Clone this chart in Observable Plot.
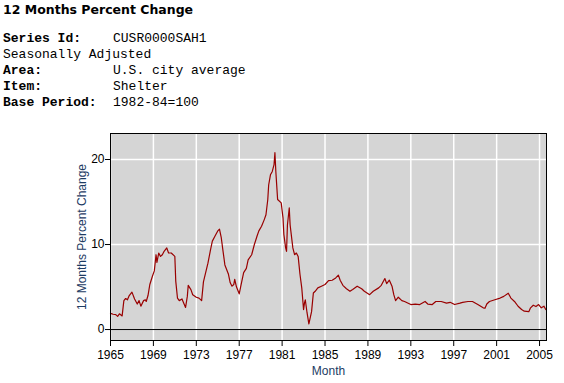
<!DOCTYPE html>
<html>
<head>
<meta charset="utf-8">
<script src="https://cdn.jsdelivr.net/npm/d3@7"></script>
<script src="https://cdn.jsdelivr.net/npm/@observablehq/plot@0.6"></script>
<style>
  html, body { margin: 0; padding: 0; background: #fff; }
  #wrap { width: 564px; height: 383px; position: relative; overflow: hidden; }
  #head { position: relative; height: 120px; }
  .title { position: absolute; left: 3px; top: 2px; font: bold 12.5px "DejaVu Sans", Verdana, sans-serif; color: #000; }
  .line { position: absolute; left: 3px; font: 13px "Liberation Mono", "Courier New", monospace; white-space: pre; color: #000; line-height: 16px; }
  .line b { font-weight: bold; }
  .val { position: absolute; left: 113px; font: 13px "Liberation Mono", "Courier New", monospace; white-space: pre; color: #000; line-height: 16px; }
  svg { display: block; }
</style>
</head>
<body>
<div id="wrap">
  <div id="head">
    <div class="title">12 Months Percent Change</div>
    <div class="line" style="top:31px"><b>Series Id:</b></div><div class="val" style="top:31px">CUSR0000SAH1</div>
    <div class="line" style="top:47px">Seasonally Adjusted</div>
    <div class="line" style="top:63px"><b>Area:</b></div><div class="val" style="top:63px">U.S. city average</div>
    <div class="line" style="top:79px"><b>Item:</b></div><div class="val" style="top:79px">Shelter</div>
    <div class="line" style="top:95px"><b>Base Period:</b></div><div class="val" style="top:95px">1982-84=100</div>
  </div>
  <div id="chart"></div>
</div>
<script>
const months = [
"1965-01","1965-04","1965-07","1965-09","1965-11","1966-02","1966-04","1966-06","1966-08","1966-10",
"1967-01","1967-04","1967-07","1967-09","1967-11","1968-02","1968-04","1968-05","1968-07","1968-09",
"1968-12","1969-02","1969-04","1969-05","1969-07","1969-09","1969-11","1970-01","1970-04","1970-06",
"1970-09","1971-01","1971-02","1971-04","1971-06","1971-09","1972-01","1972-03","1972-04","1972-07",
"1972-09","1973-01","1973-04","1973-07","1973-09","1973-11","1974-02","1974-05","1974-07","1974-10",
"1975-01","1975-03","1975-05","1975-07","1975-09","1976-01","1976-03","1976-05","1976-07","1976-08",
"1976-10","1977-01","1977-03","1977-06","1977-09","1977-11","1978-03","1978-06","1978-09","1978-11",
"1979-02","1979-05","1979-07","1979-09","1979-10","1979-12","1980-02","1980-04","1980-05","1980-06",
"1980-08","1980-12","1981-02","1981-03","1981-05","1981-06","1981-07","1981-09","1981-10","1982-01",
"1982-03","1982-05","1982-07","1982-09","1982-11","1983-01","1983-02","1983-03","1983-05","1983-07",
"1983-10","1983-12","1984-02","1984-05","1984-09","1985-01","1985-05","1985-09","1986-01","1986-04",
"1986-06","1986-09","1987-01","1987-05","1987-08","1988-01","1988-06","1988-09","1989-03","1989-07",
"1990-01","1990-04","1990-08","1990-10","1991-01","1991-04","1991-06","1991-08","1991-11","1992-03",
"1992-06","1993-01","1993-06","1993-11","1994-05","1994-08","1995-01","1995-05","1995-11","1996-05",
"1996-09","1997-02","1997-08","1997-11","1998-05","1998-10","1999-04","1999-10","1999-12","2000-02",
"2000-05","2000-11","2001-05","2001-09","2002-02","2002-05","2002-09","2003-01","2003-05","2003-08",
"2004-01","2004-03","2004-06","2004-09","2004-12","2005-03","2005-06","2005-08"
];
const values = [
1.9,1.8,1.75,1.55,1.85,1.6,3.4,3.65,3.5,4.0,
4.4,3.6,3.0,3.4,2.75,3.4,3.5,3.3,4.0,5.3,
6.3,6.9,8.8,7.9,9.0,8.6,8.8,9.2,9.6,9.0,
9.0,8.6,5.7,3.7,3.4,3.6,2.6,3.9,5.2,4.7,
4.1,3.8,3.7,3.4,5.6,6.5,7.8,9.4,10.4,11.0,
11.6,11.8,10.8,9.2,7.6,6.5,5.5,5.1,5.3,5.9,
5.0,4.2,5.2,6.7,7.2,8.2,8.8,10.0,11.0,11.6,
12.15,12.9,13.5,15.3,17.0,18.2,18.6,19.4,20.8,18.6,
15.3,14.9,13.1,11.2,9.6,9.2,12.3,14.3,12.3,9.6,
8.8,9.0,8.6,6.5,4.9,2.35,3.1,3.5,1.95,0.66,
2.1,4.3,4.5,4.9,5.1,5.3,5.76,5.8,6.07,6.4,
5.8,5.2,4.8,4.5,4.7,5.1,4.8,4.5,4.1,4.5,
4.9,5.2,6.0,5.4,5.8,5.1,4.1,3.4,3.8,3.4,
3.3,2.94,3.0,2.94,3.3,3.0,2.94,3.3,3.3,3.1,
3.2,2.94,3.1,3.2,3.3,3.3,2.94,2.55,2.5,3.0,
3.3,3.5,3.7,3.9,4.27,3.7,3.3,2.74,2.35,2.16,
2.1,2.55,2.86,2.7,2.94,2.55,2.75,2.35
];
const tickYears = [1965,1969,1973,1977,1981,1985,1989,1993,1997,2001,2005];
const yTicks = [0,10,20];
const yGrid = [10,20];
const xLabel = "Month";
const yLabel = "12 Months Percent Change";

const parse = d3.utcParse("%Y-%m");
const data = months.map((m, i) => ({date: parse(m), value: values[i]}));
const tickDates = tickYears.map(y => new Date(Date.UTC(y, 0, 1)));

const chart = Plot.plot({
  width: 564,
  height: 263,
  marginTop: 13,
  marginBottom: 43,
  marginLeft: 110,
  marginRight: 18,
  style: {fontFamily: "Arial, 'Liberation Sans', sans-serif", fontSize: "12px", background: "white", color: "black", overflow: "visible"},
  x: {type: "utc", domain: [new Date(Date.UTC(1965, 0, 1)), new Date(Date.UTC(2005, 7, 26))]},
  y: {domain: [-1.29, 23.06]},
  marks: [
    Plot.frame({fill: "#d5d5d5", stroke: null}),
    Plot.ruleX(tickDates, {stroke: "white", strokeWidth: 1.5}),
    Plot.ruleY(yGrid, {stroke: "white", strokeWidth: 1.5}),
    Plot.ruleY([0], {stroke: "black", strokeWidth: 1}),
    Plot.lineY(data, {x: "date", y: "value", stroke: "#990000", strokeWidth: 1.2}),
    Plot.frame({stroke: "black", strokeWidth: 1}),
    Plot.axisX({ticks: tickDates, tickFormat: d3.utcFormat("%Y"), tickSize: 6, tickPadding: 4, label: null, fill: "black"}),
    Plot.axisY({ticks: yTicks, tickSize: 5, tickPadding: 1, label: null, fill: "black"}),
    Plot.text([xLabel], {frameAnchor: "bottom", dy: 34, fill: "#1d3b63", fontSize: 12}),
    Plot.text([yLabel], {frameAnchor: "left", dx: -28, rotate: -90, textAnchor: "middle", fill: "#1d3b63", fontSize: 12})
  ]
});
document.getElementById("chart").appendChild(chart);
</script>
</body>
</html>
